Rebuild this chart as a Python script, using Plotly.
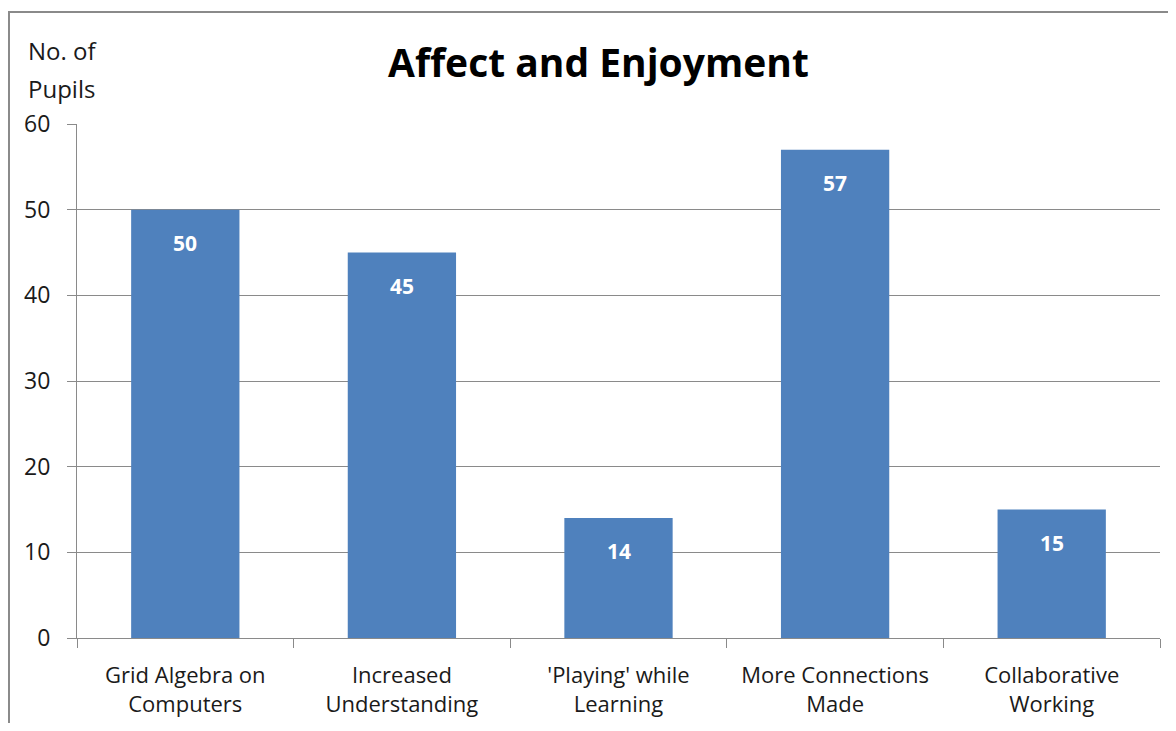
import plotly.graph_objects as go

categories = ["Grid Algebra on<br>Computers", "Increased<br>Understanding",
              "'Playing' while<br>Learning", "More Connections<br>Made",
              "Collaborative<br>Working"]
values = [50, 45, 14, 57, 15]
y_ticks = [0, 10, 20, 30, 40, 50, 60]

FONT = "Open Sans"
bar_color = "#4F81BD"
grid_color = "#8A8A8A"
text_color = "#1a1a1a"

fig = go.Figure()
fig.add_trace(go.Bar(x=categories, y=values, marker_color=bar_color,
                     marker_line_width=0, hoverinfo="skip"))

for c, v in zip(categories, values):
    fig.add_annotation(x=c, y=v, text=f"<b>{v}</b>", showarrow=False,
                       yshift=-33, font=dict(family=FONT, size=21, color="white"))

# Axis title as two lines
fig.add_annotation(xref="paper", yref="paper", x=-0.047, y=1.0, yshift=74,
                   text="No. of", showarrow=False, xanchor="left", yanchor="middle",
                   font=dict(family=FONT, size=24, color=text_color))
fig.add_annotation(xref="paper", yref="paper", x=-0.047, y=1.0, yshift=36,
                   text="Pupils", showarrow=False, xanchor="left", yanchor="middle",
                   font=dict(family=FONT, size=24, color=text_color))

# outer chart border
fig.add_shape(type="rect", xref="paper", yref="paper",
              x0=-0.0628, x1=1.2, y0=-0.5, y1=1.218,
              line=dict(color="#8a8a8a", width=2), layer="below")

fig.update_layout(
    width=1160, height=715,
    margin=dict(l=69, r=8, t=116, b=85, autoexpand=False),
    paper_bgcolor="white", plot_bgcolor="white",
    bargap=0.5, showlegend=False,
    title=dict(text="<b>Affect and Enjoyment</b>", x=0.509, xanchor="center",
               y=0.923, yanchor="middle",
               font=dict(family=FONT, size=39, color="black")),
    font=dict(family=FONT, size=22, color=text_color),
)
fig.update_xaxes(showline=True, linecolor=grid_color, linewidth=1,
                 ticks="outside", ticklen=9, tickcolor=grid_color,
                 tickson="boundaries", showgrid=False, automargin=False,
                 tickfont=dict(family=FONT, size=22, color=text_color),
                 ticklabelstandoff=18, mirror=False)
fig.update_yaxes(range=[0, 60], tickvals=y_ticks, showgrid=True,
                 gridcolor=grid_color, gridwidth=1, automargin=False,
                 showline=True, linecolor=grid_color, linewidth=1,
                 ticks="outside", ticklen=9, tickcolor=grid_color,
                 ticklabelstandoff=12, zeroline=False,
                 tickfont=dict(family=FONT, size=23, color=text_color))

fig.write_html("out.html")
